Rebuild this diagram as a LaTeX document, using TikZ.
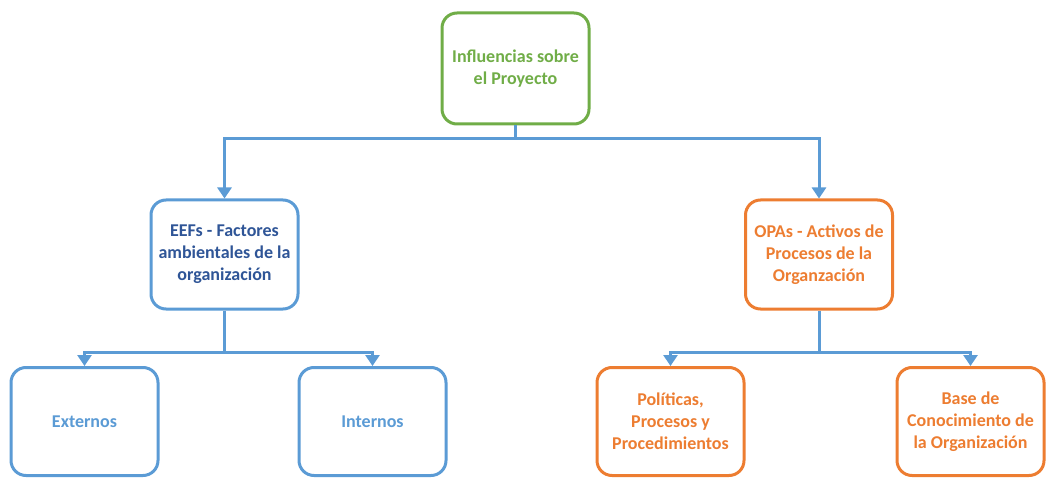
\documentclass[tikz,border=0pt]{standalone}
\usepackage{fontspec}
\setmainfont{Carlito}
\usetikzlibrary{arrows.meta}
\definecolor{cgreen}{HTML}{70AD47}
\definecolor{cblue}{HTML}{5B9BD5}
\definecolor{corange}{HTML}{ED7D31}
\definecolor{cdark}{HTML}{2F5597}
\tikzset{
  box/.style={draw, line width=3pt, rounded corners=15pt, minimum width=147pt, minimum height=109pt, align=center, font=\fontsize{18}{22}\selectfont\bfseries, inner sep=0pt, fill=white},
  gbox/.style={box, draw=cgreen, text=cgreen},
  bbox/.style={box, draw=cblue, text=cdark},
  lbbox/.style={box, draw=cblue, text=cblue},
  obox/.style={box, draw=corange, text=corange},
  conn/.style={draw=cblue, line width=3pt},
  arr/.style={conn, -{Triangle[width=14pt,length=11pt]}}
}
\begin{document}
\begin{tikzpicture}[x=1pt,y=-1pt]
\useasboundingbox (0,0) rectangle (1048,478);
\node[gbox, minimum height=111pt] (top) at (515.5,68.5) {Influencias sobre\\el Proyecto};
\node[bbox] (eef) at (224.5,254.5) {EEFs - Factores\\ambientales de la\\organización};
\node[obox] (opa) at (819,254.5) {OPAs - Activos de\\Procesos de la\\Organzación};
\node[lbbox, minimum height=108pt] (ext) at (84.5,421.5) {Externos};
\node[lbbox, minimum height=108pt] (int) at (372.5,421.5) {Internos};
\node[obox, minimum height=108pt] (pol) at (670.5,421.5) {Políticas,\\Procesos y\\Procedimientos};
\node[obox, minimum height=108pt] (base) at (970.5,421.5) {Base de\\Conocimiento de\\la Organización};
\coordinate (j1) at (515.5,139);
\coordinate (j2) at (224.5,352);
\coordinate (j3) at (819,352);
\draw[conn] (top.south) -- (j1);
\draw[arr] (j1) -| (eef.north);
\draw[arr] (j1) -| (opa.north);
\draw[conn] (eef.south) -- (j2);
\draw[arr] (j2) -| (ext.north);
\draw[arr] (j2) -| (int.north);
\draw[conn] (opa.south) -- (j3);
\draw[arr] (j3) -| (pol.north);
\draw[arr] (j3) -| (base.north);
\end{tikzpicture}
\end{document}
